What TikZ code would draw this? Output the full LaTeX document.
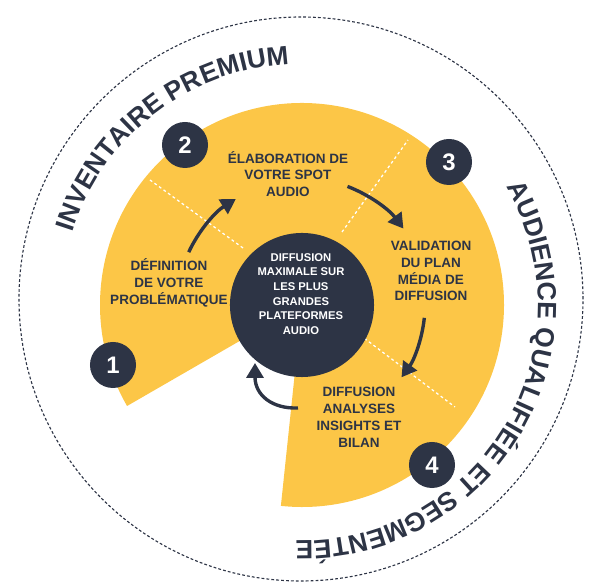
\documentclass[tikz,border=0pt]{standalone}
\usepackage{fontspec}
\setmainfont{Liberation Sans}
\usetikzlibrary{arrows.meta,decorations.text}
\definecolor{navy}{HTML}{2D3445}
\definecolor{sun}{HTML}{FCC647}
\newcommand{\ringfont}{\fontsize{18.8}{20}\selectfont\bfseries}

\begin{document}
\begin{tikzpicture}[
  x=0.025cm, y=0.025cm,
  every node/.style={font=\bfseries},
  stage/.style={align=center, text=navy, inner sep=0pt,
                font=\fontsize{9.6}{12}\selectfont\bfseries},
  badge/.style={circle, fill=navy, text=white, minimum size=1.15cm,
                inner sep=0pt, font=\fontsize{17}{17}\selectfont\bfseries},
  hub/.style={circle, fill=navy, minimum size=3.6cm, inner sep=0pt},
  divider/.style={white, line width=0.9pt, dash pattern=on 2pt off 2pt},
  flowarr/.style={navy, line width=2.4pt,
                  -{Triangle[length=0.37cm, width=0.42cm]}},
]
  \useasboundingbox (-302,-278) rectangle (298,305);

  % outer dashed ring
  \draw[navy, line width=0.8pt, dash pattern=on 2pt off 1.5pt]
    (-1,6) circle[radius=282];

  % yellow disk with the missing slice
  \fill[sun] (0,0) -- (-96:202) arc[start angle=-96, end angle=210, radius=202] -- cycle;

  % white dashed dividers
  \draw[divider] (-59,57) -- (-152,125);
  \draw[divider] (40,73) -- (106,165);
  \draw[divider] (58,-30) -- (153,-102);

  % centre
  \node[hub] (hub) at (0,0) {};
  \node[stage, text=white, font=\fontsize{8}{10.4}\selectfont\bfseries]
    (hubtext) at (-1,11) {DIFFUSION\\MAXIMALE SUR\\LES PLUS\\GRANDES\\PLATEFORMES\\AUDIO};

  % steps
  \node[stage] (s1) at (-133,22) {DÉFINITION\\DE VOTRE\\PROBLÉMATIQUE};
  \node[stage] (s2) at (-14,131) {ÉLABORATION DE\\VOTRE SPOT\\AUDIO};
  \node[stage] (s3) at (129,34) {VALIDATION\\DU PLAN\\MÉDIA DE\\DIFFUSION};
  \node[stage] (s4) at (57,-112) {DIFFUSION\\ANALYSES\\INSIGHTS ET\\BILAN};

  % numbers
  \node[badge] (n1) at (-189,-60) {1};
  \node[badge] (n2) at (-117,160) {2};
  \node[badge] (n3) at (147,143) {3};
  \node[badge] (n4) at (130,-160) {4};

  % arrows between steps
  \coordinate (a1) at (155:125);
  \coordinate (a2) at (69:127);
  \coordinate (a3) at (-6:123);
  \coordinate (a4) at (-4,-103);
  \coordinate (b4) at (-47,-58);
  \draw[flowarr] (a1) arc[start angle=155, end angle=122, radius=125];
  \draw[flowarr] (a2) arc[start angle=69, end angle=37, radius=127];
  \draw[flowarr] (a3) arc[start angle=-6, end angle=-36, radius=123];
  \draw[flowarr] (a4) .. controls (-30,-104) and (-47,-90) .. (b4);

  % ring texts
  \path[decorate, decoration={text along path, text color=navy,
        text={|\ringfont|INVENTAIRE PREMIUM}}]
    (162.5:241) arc[start angle=162.5, end angle=70, radius=241];
  \path[decorate, decoration={text along path, text color=navy,
        text={|\ringfont|AUDIENCE QUALIFIÉE ET SEGMENTÉE}}]
    (30:236) arc[start angle=30, end angle=-115, radius=236];
\end{tikzpicture}
\end{document}
